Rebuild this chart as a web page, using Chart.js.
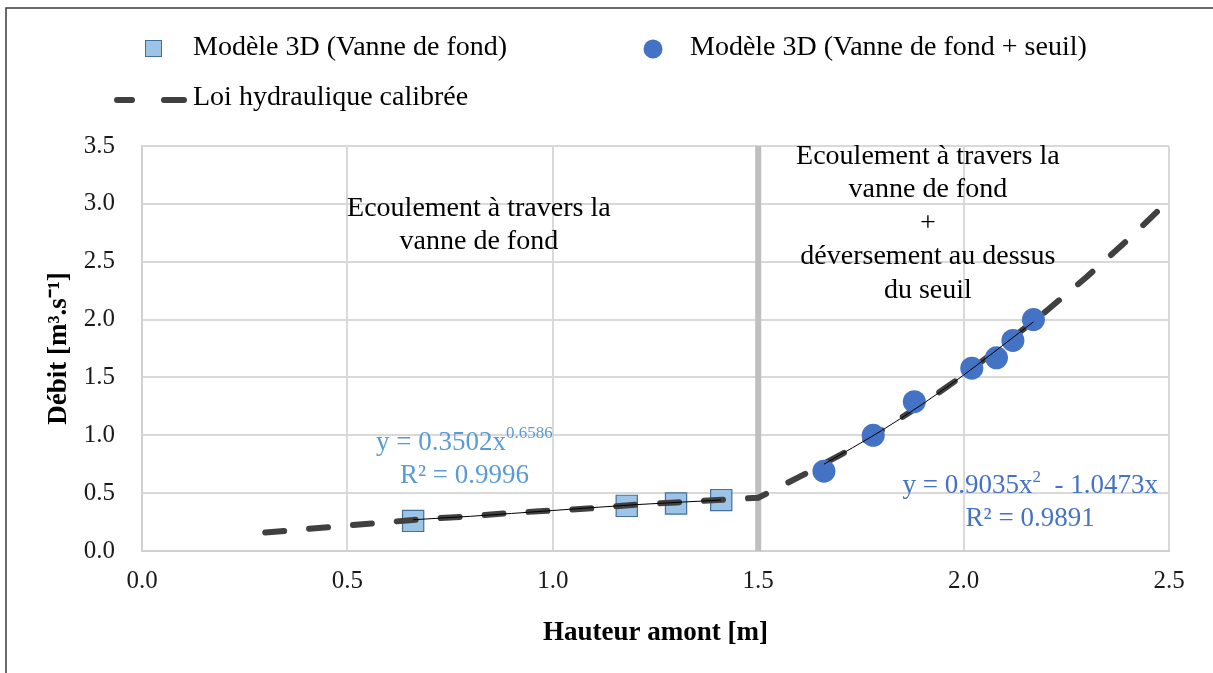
<!DOCTYPE html>
<html lang="fr">
<head>
<meta charset="utf-8">
<title>Débit en fonction de la hauteur amont</title>
<script src="https://cdn.jsdelivr.net/npm/chart.js@4.4.1/dist/chart.umd.min.js"></script>
<style>
  html, body { margin: 0; padding: 0; background: #fff; }
  #wrap { width: 1213px; height: 673px; }
</style>
</head>
<body>
<div id="wrap"><canvas id="chart" width="1213" height="673"></canvas></div>
<script>
// Modèle 3D, vanne de fond seule
const vanneX = [0.66, 1.18, 1.30, 1.41];
const vanneY = [0.26, 0.39, 0.41, 0.44];

// Modèle 3D, vanne de fond + seuil
const seuilX = [1.66, 1.78, 1.88, 2.02, 2.08, 2.12, 2.17];
const seuilY = [0.69, 1.00, 1.29, 1.58, 1.67, 1.82, 2.00];

// Loi hydraulique calibrée
const loiX = [0.3, 0.4, 0.5, 0.6, 0.7, 0.8, 0.9, 1.0, 1.1, 1.2, 1.3, 1.4, 1.5,
              1.6, 1.7, 1.8, 1.9, 2.0, 2.1, 2.2, 2.3, 2.4, 2.5];
const loiY = [0.16, 0.19, 0.22, 0.25, 0.28, 0.30, 0.33, 0.35, 0.37, 0.40, 0.42, 0.44, 0.46,
              0.64, 0.83, 1.04, 1.27, 1.52, 1.79, 2.07, 2.37, 2.69, 3.03];

// courbes de tendance
const tendVanneX = [0.66, 0.8, 1.0, 1.2, 1.41];
const tendVanneY = [0.27, 0.30, 0.35, 0.40, 0.44];
const tendSeuilX = [1.66, 1.8, 1.9, 2.0, 2.1, 2.17];
const tendSeuilY = [0.75, 1.04, 1.27, 1.52, 1.79, 1.98];

// limite entre les deux régimes
const limiteX = [1.5, 1.5];
const limiteY = [0, 3.5];

const xTicks = [0, 0.5, 1.0, 1.5, 2.0, 2.5];
const yTicks = [0, 0.5, 1.0, 1.5, 2.0, 2.5, 3.0, 3.5];

const SERIF = '"Liberation Serif", "Times New Roman", serif';
const pts = (xs, ys) => xs.map((x, i) => ({ x: x, y: ys[i] }));

// textes posés dans le graphique (x, y en unités des axes)
const blocs = [
  { x: 0.82, y: 2.96, lines: ['Ecoulement à travers la', 'vanne de fond'] },
  { x: 1.913, y: 3.41, lines: ['Ecoulement à travers la', 'vanne de fond', '+', 'déversement au dessus', 'du seuil'] }
];
const equations = [
  { x: 0.785, y: 0.935, color: '#5b9bd5', lines: [
      [{ t: 'y = 0.3502x' }, { t: '0.6586', sup: true }],
      [{ t: 'R² = 0.9996' }] ] },
  { x: 2.162, y: 0.56, color: '#4472c4', lines: [
      [{ t: 'y = 0.9035x' }, { t: '2', sup: true }, { t: '  - 1.0473x' }],
      [{ t: 'R² = 0.9891' }] ] }
];

function drawRich(ctx, parts, cx, cy, size, color) {
  let total = 0;
  parts.forEach(p => {
    ctx.font = (p.sup ? Math.round(size * 0.62) : size) + 'px ' + SERIF;
    p.w = ctx.measureText(p.t).width;
    total += p.w;
  });
  let x = cx - total / 2;
  ctx.fillStyle = color;
  ctx.textAlign = 'left';
  ctx.textBaseline = 'middle';
  parts.forEach(p => {
    ctx.font = (p.sup ? Math.round(size * 0.62) : size) + 'px ' + SERIF;
    ctx.fillText(p.t, x, p.sup ? cy - size * 0.33 : cy);
    x += p.w;
  });
}

const decor = {
  id: 'decor',
  afterDatasetsDraw(chart) {
    const ctx = chart.ctx;
    const sx = chart.scales.x, sy = chart.scales.y;
    ctx.save();

    // cadre
    ctx.strokeStyle = '#3a3a3a';
    ctx.lineWidth = 1.5;
    ctx.beginPath();
    ctx.moveTo(6, 673);
    ctx.lineTo(6, 8);
    ctx.lineTo(1213, 8);
    ctx.stroke();

    // textes
    ctx.fillStyle = '#000';
    ctx.textAlign = 'center';
    ctx.textBaseline = 'middle';
    ctx.font = '28px ' + SERIF;
    blocs.forEach(b => {
      const px = sx.getPixelForValue(b.x);
      const py = sy.getPixelForValue(b.y);
      b.lines.forEach((l, i) => ctx.fillText(l, px, py + i * 33.5));
    });
    equations.forEach(e => {
      const px = sx.getPixelForValue(e.x);
      const py = sy.getPixelForValue(e.y);
      e.lines.forEach((l, i) => drawRich(ctx, l, px, py + i * 33, 27, e.color));
    });

    // légende
    const ds = chart.data.datasets;
    const carre = ds[0], rond = ds[1], loi = ds[2];
    ctx.font = '28px ' + SERIF;
    ctx.textAlign = 'left';

    ctx.fillStyle = carre.backgroundColor;
    ctx.strokeStyle = carre.borderColor;
    ctx.lineWidth = 1;
    ctx.fillRect(145, 40, 16, 16);
    ctx.strokeRect(145.5, 40.5, 16, 16);
    ctx.fillStyle = '#000';
    ctx.fillText(carre.label, 193, 48);

    ctx.fillStyle = rond.backgroundColor;
    ctx.beginPath();
    ctx.arc(653, 49, 9.5, 0, Math.PI * 2);
    ctx.fill();
    ctx.fillStyle = '#000';
    ctx.fillText(rond.label, 690, 48);

    ctx.strokeStyle = loi.borderColor;
    ctx.lineWidth = loi.borderWidth;
    ctx.lineCap = 'round';
    ctx.beginPath();
    ctx.moveTo(117, 100); ctx.lineTo(132, 100);
    ctx.moveTo(164, 100); ctx.lineTo(184, 100);
    ctx.stroke();
    ctx.fillText(loi.label, 193, 98);

    ctx.restore();
  }
};

new Chart(document.getElementById('chart'), {
  type: 'scatter',
  data: {
    datasets: [
      {
        label: 'Modèle 3D (Vanne de fond)',
        data: pts(vanneX, vanneY),
        pointStyle: 'rect',
        pointRadius: 15,
        backgroundColor: '#9dc3e6',
        borderColor: '#41719c',
        borderWidth: 1.2,
        order: 4
      },
      {
        label: 'Modèle 3D (Vanne de fond + seuil)',
        data: pts(seuilX, seuilY),
        pointStyle: 'circle',
        pointRadius: 11.5,
        backgroundColor: '#4472c4',
        borderColor: '#4472c4',
        borderWidth: 0,
        order: 2
      },
      {
        label: 'Loi hydraulique calibrée',
        data: pts(loiX, loiY),
        showLine: true,
        pointRadius: 0,
        borderColor: '#404040',
        backgroundColor: '#404040',
        borderWidth: 6,
        borderDash: [19, 25],
        borderCapStyle: 'round',
        tension: 0,
        order: 3
      },
      {
        label: 'tendance vanne',
        data: pts(tendVanneX, tendVanneY),
        showLine: true,
        pointRadius: 0,
        borderColor: '#000',
        borderWidth: 1,
        cubicInterpolationMode: 'monotone',
        order: 1
      },
      {
        label: 'tendance seuil',
        data: pts(tendSeuilX, tendSeuilY),
        showLine: true,
        pointRadius: 0,
        borderColor: '#000',
        borderWidth: 1,
        cubicInterpolationMode: 'monotone',
        order: 1
      },
      {
        label: 'limite',
        data: pts(limiteX, limiteY),
        showLine: true,
        pointRadius: 0,
        borderColor: '#bfbfbf',
        borderWidth: 6,
        order: 5
      }
    ]
  },
  options: {
    responsive: false,
    devicePixelRatio: 1,
    animation: false,
    events: [],
    layout: { padding: { top: 146, right: 44, left: 0, bottom: 0 } },
    plugins: {
      legend: { display: false },
      tooltip: { enabled: false }
    },
    scales: {
      x: {
        type: 'linear',
        min: 0,
        max: 2.5,
        afterFit: s => { s.height = 122; },
        afterBuildTicks: s => { s.ticks = xTicks.map(v => ({ value: v })); },
        grid: { color: '#d9d9d9', lineWidth: 2, drawTicks: false },
        border: { color: '#d0d0d0', width: 2 },
        ticks: {
          padding: 15,
          color: '#1a1a1a',
          font: { family: SERIF, size: 25 },
          callback: v => v.toFixed(1)
        },
        title: {
          display: true,
          text: 'Hauteur amont [m]',
          color: '#000',
          font: { family: SERIF, size: 27, weight: 'bold' },
          padding: { top: 0, bottom: 24 }
        }
      },
      y: {
        type: 'linear',
        min: 0,
        max: 3.5,
        afterFit: s => { s.width = 142; },
        afterBuildTicks: s => { s.ticks = yTicks.map(v => ({ value: v })); },
        grid: { color: '#d9d9d9', lineWidth: 2, drawTicks: false },
        border: { color: '#d0d0d0', width: 2 },
        ticks: {
          padding: 27,
          color: '#1a1a1a',
          font: { family: SERIF, size: 25 },
          callback: v => v.toFixed(1)
        },
        title: {
          display: true,
          text: 'Débit [m³.s⁻¹]',
          color: '#000',
          font: { family: SERIF, size: 27, weight: 'bold' },
          padding: { top: 43, bottom: 0 }
        }
      }
    }
  },
  plugins: [decor]
});
</script>
</body>
</html>
